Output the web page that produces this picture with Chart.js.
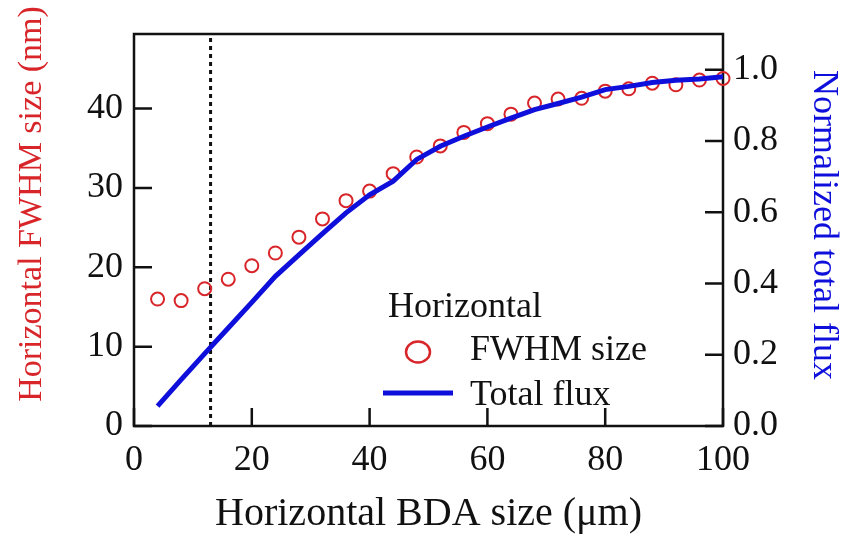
<!DOCTYPE html>
<html>
<head>
<meta charset="utf-8">
<script src="https://cdn.jsdelivr.net/npm/chart.js@4/dist/chart.umd.min.js"></script>
<style>
html,body{margin:0;padding:0;background:#fff}
</style>
</head>
<body>
<canvas id="chart" width="846" height="534"></canvas>
<script>
// data
const bdaSize = [4,8,12,16,20,24,28,32,36,40,44,48,52,56,60,64,68,72,76,80,84,88,92,96,100]
const fwhmSize = [16.0,15.8,17.3,18.5,20.2,21.8,23.8,26.1,28.4,29.6,31.8,33.9,35.3,37.0,38.1,39.3,40.7,41.2,41.3,42.2,42.5,43.2,43.0,43.6,43.8]
const totalFlux = [0.056,0.130,0.203,0.275,0.347,0.420,0.480,0.540,0.598,0.649,0.687,0.748,0.785,0.813,0.839,0.864,0.888,0.905,0.923,0.944,0.953,0.964,0.970,0.974,0.980]
const cutSize = 13

const xTicks = [0,20,40,60,80,100]
const leftTicks = [0,10,20,30,40]
const rightTicks = [0,0.2,0.4,0.6,0.8,1.0]

const serif = "'Liberation Serif','Times New Roman',serif"
const RED = "#d8252a"
const BLUE = "#0f0fdc"
const INK = "#111"

const LEFT_MAX = 49.4
const RIGHT_MAX = 1.1

// box + inward tick marks
const frame = {
  id:"frame",
  beforeDatasetsDraw(chart){
    const {ctx, chartArea:a, scales} = chart
    const L = 18
    ctx.save()
    ctx.strokeStyle = INK
    ctx.lineWidth = 2.5
    ctx.strokeRect(a.left, a.top, a.right-a.left, a.bottom-a.top)
    ctx.beginPath()
    xTicks.forEach(v=>{
      const p = scales.x.getPixelForValue(v)
      ctx.moveTo(p, a.bottom); ctx.lineTo(p, a.bottom-L)
    })
    leftTicks.forEach(v=>{
      const p = scales.y.getPixelForValue(v)
      ctx.moveTo(a.left, p); ctx.lineTo(a.left+L, p)
    })
    rightTicks.forEach(v=>{
      const p = scales.y1.getPixelForValue(v)
      ctx.moveTo(a.right, p); ctx.lineTo(a.right-L, p)
    })
    ctx.stroke()
    ctx.restore()
  }
}

// the two y titles are not centred on the axis in the original, so draw them by hand
const sideTitles = {
  id:"sideTitles",
  afterDraw(chart){
    const ctx = chart.ctx
    ctx.save()
    ctx.textAlign = "center"
    ctx.textBaseline = "middle"
    ctx.font = "34px " + serif
    ctx.fillStyle = RED
    ctx.translate(32, 204)
    ctx.rotate(-Math.PI/2)
    ctx.fillText("Horizontal FWHM size (nm)", 0, 0)
    ctx.restore()

    ctx.save()
    ctx.textAlign = "center"
    ctx.textBaseline = "middle"
    ctx.font = "36px " + serif
    ctx.fillStyle = BLUE
    ctx.translate(823, 225)
    ctx.rotate(Math.PI/2)
    ctx.fillText("Normalized total flux", 0, 0)
    ctx.restore()
  }
}

// legend sits inside the plot, lower right
const legendBox = {
  id:"legendBox",
  afterDraw(chart){
    const ctx = chart.ctx
    ctx.save()
    ctx.font = "36px " + serif
    ctx.fillStyle = INK
    ctx.textBaseline = "alphabetic"
    ctx.fillText("Horizontal", 388, 317)
    ctx.fillText("FWHM size", 470, 360)
    ctx.fillText("Total flux", 470, 405)
    ctx.strokeStyle = RED
    ctx.lineWidth = 2.5
    ctx.beginPath()
    ctx.ellipse(418, 352, 12, 10.5, 0, 0, Math.PI*2)
    ctx.stroke()
    ctx.strokeStyle = BLUE
    ctx.lineWidth = 5
    ctx.beginPath()
    ctx.moveTo(383, 393); ctx.lineTo(453, 393)
    ctx.stroke()
    ctx.restore()
  }
}

const setTicks = arr => s => { s.ticks = arr.map(v=>({value:v})) }

new Chart(document.getElementById("chart"),{
  type:"line",
  data:{
    datasets:[
      {
        label:"Total flux",
        yAxisID:"y1",
        data:bdaSize.map((x,i)=>({x:x, y:totalFlux[i]})),
        borderColor:BLUE,
        borderWidth:5,
        pointRadius:0,
        tension:0,
        clip:false
      },
      {
        label:"FWHM size",
        yAxisID:"y",
        data:bdaSize.map((x,i)=>({x:x, y:fwhmSize[i]})),
        showLine:false,
        pointStyle:"circle",
        pointRadius:6.5,
        pointBorderWidth:2,
        pointBorderColor:RED,
        pointBackgroundColor:"rgba(0,0,0,0)",
        clip:false
      },
      {
        label:"cut",
        yAxisID:"y",
        data:[{x:cutSize, y:0},{x:cutSize, y:LEFT_MAX}],
        borderColor:INK,
        borderWidth:3,
        borderDash:[4,4],
        pointRadius:0
      }
    ]
  },
  options:{
    responsive:false,
    animation:false,
    events:[],
    layout:{padding:{top:34,left:0,right:0,bottom:0}, autoPadding:false},
    plugins:{legend:{display:false}, tooltip:{enabled:false}},
    scales:{
      x:{
        type:"linear",
        position:"bottom",
        min:0, max:100,
        afterBuildTicks:setTicks(xTicks),
        afterFit:s=>{ s.height = 108 },
        grid:{display:false, drawTicks:false},
        border:{display:false},
        ticks:{font:{family:serif, size:36}, color:INK, padding:13, maxRotation:0, autoSkip:false},
        title:{display:true, text:"Horizontal BDA size (μm)", color:INK,
               font:{family:serif, size:40, lineHeight:1}, padding:0}
      },
      y:{
        type:"linear",
        position:"left",
        min:0, max:LEFT_MAX,
        afterBuildTicks:setTicks(leftTicks),
        afterFit:s=>{ s.width = 134 },
        grid:{display:false, drawTicks:false},
        border:{display:false},
        ticks:{font:{family:serif, size:36}, color:INK, padding:11},
        title:{display:false}
      },
      y1:{
        type:"linear",
        position:"right",
        min:0, max:RIGHT_MAX,
        afterBuildTicks:setTicks(rightTicks),
        afterFit:s=>{ s.width = 123 },
        grid:{display:false, drawTicks:false},
        border:{display:false},
        ticks:{font:{family:serif, size:36}, color:INK, padding:10, callback:v=>v.toFixed(1)},
        title:{display:false}
      }
    }
  },
  plugins:[frame, sideTitles, legendBox]
})
</script>
</body>
</html>
